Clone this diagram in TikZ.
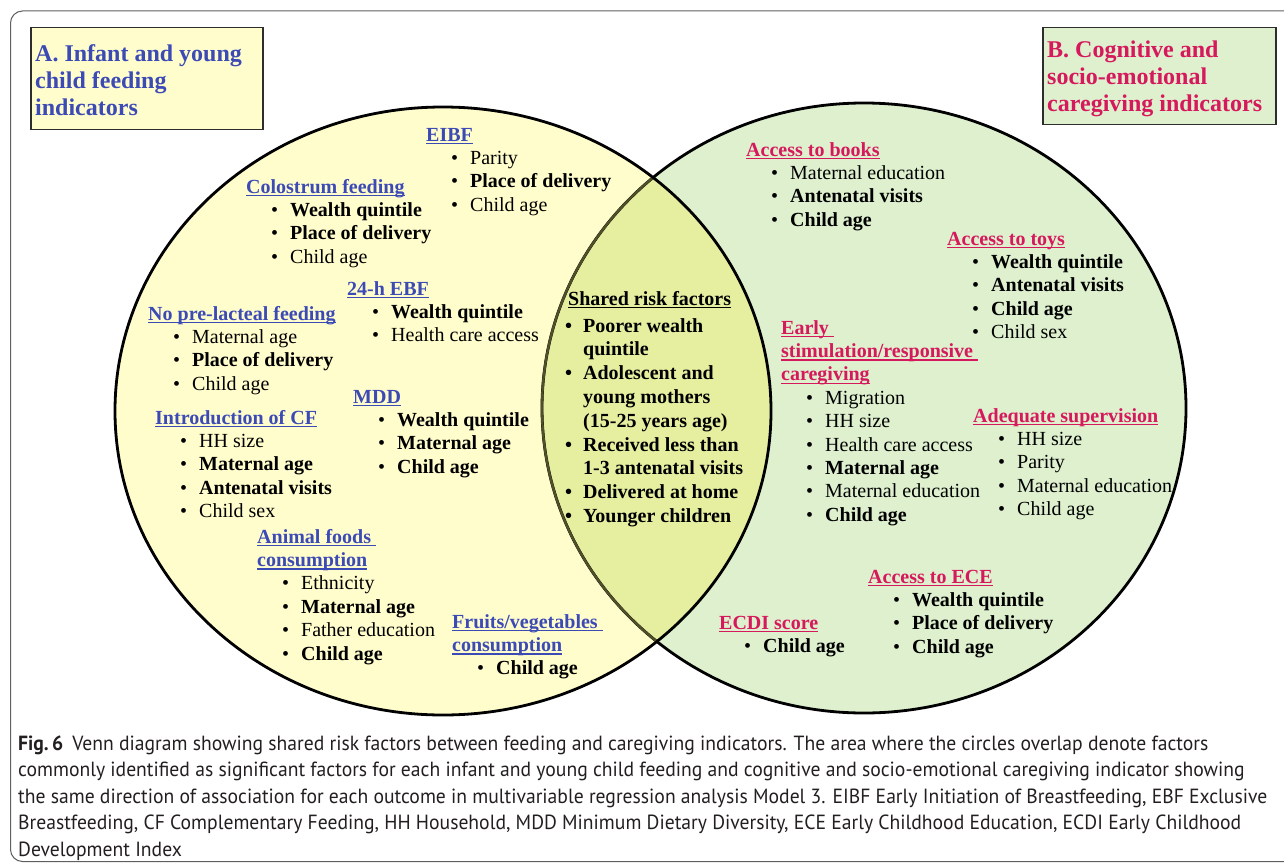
\documentclass[tikz,border=0pt]{standalone}
\usepackage{fontspec}
\setmainfont{Liberation Serif}
\newfontfamily\capfont[FakeStretch=0.958]{PT Sans}
\definecolor{feedblue}{RGB}{60,74,182}
\definecolor{carered}{RGB}{214,24,92}
\definecolor{yelfill}{RGB}{255,253,204}
\definecolor{grnfill}{RGB}{222,240,206}
\definecolor{ovlfill}{RGB}{230,238,160}
\definecolor{olivedge}{RGB}{80,80,40}
\definecolor{framegray}{RGB}{95,95,95}
\definecolor{boxedge}{RGB}{45,45,45}
\definecolor{captext}{RGB}{35,31,32}
\newcommand\ulx[1]{\setbox0\hbox{#1}\rlap{\rule[-3.2pt]{\wd0}{1.3pt}}\box0}
\newcommand\hdA[1]{{\color{feedblue}\bfseries\ulx{#1}}}
\newcommand\hdB[1]{{\color{carered}\bfseries\ulx{#1}}}
\newcommand\bi[1]{\hspace*{25pt}\makebox[19pt][l]{\textbullet}#1}
\newcommand\bb[1]{\bi{\bfseries #1}}
\newcommand\sbul[1]{\makebox[18pt][l]{\textbullet}#1}
\newcommand\scont[1]{\hspace*{18pt}#1}
\tikzset{
  grp/.style={anchor=base west, inner sep=0pt, font=\fontsize{20}{23.4}\selectfont},
  shared/.style={anchor=base west, inner sep=0pt, font=\fontsize{20}{23.8}\selectfont\bfseries},
  titlebox/.style={anchor=north west, draw=boxedge, line width=1.5pt, inner sep=0pt},
  titletext/.style={anchor=base west, inner sep=0pt, font=\fontsize{24}{27}\selectfont\bfseries},
  capline/.style={anchor=base west, inner sep=0pt, text=captext, font=\capfont\fontsize{20.5}{26.5}\selectfont},
  outline/.style={line width=2.8pt, black}
}
\begin{document}
\begin{tikzpicture}[x=1pt,y=-1pt]
\useasboundingbox (0,0) rectangle (1284,864);
\begin{scope}
\clip (0,0) rectangle (1284,864);
\draw[framegray, line width=1pt, rounded corners=12pt] (10.5,11) rectangle (1330,861.5);
\end{scope}
% circles
\fill[yelfill] (443,411) ellipse [x radius=328, y radius=304];
\fill[grnfill] (864,408) ellipse [x radius=322, y radius=305];
\begin{scope}
\clip (443,411) ellipse [x radius=328, y radius=304];
\fill[ovlfill] (864,408) ellipse [x radius=322, y radius=305];
\end{scope}
\draw[outline] (443,411) ellipse [x radius=328, y radius=304];
\draw[outline] (864,408) ellipse [x radius=322, y radius=305];
\begin{scope}
\clip (443,411) ellipse [x radius=326.6, y radius=302.6];
\draw[line width=2.4pt, olivedge] (864,408) ellipse [x radius=322, y radius=305];
\end{scope}
% title boxes
\node[titlebox, fill=yelfill, minimum width=232pt, minimum height=102pt] (boxa) at (30,27) {};
\node[titletext, text=feedblue] (titlea) at (35,62) {\begin{tabular}[t]{@{}l@{}}A. Infant and young\\child feeding\\indicators\end{tabular}};
\node[titlebox, fill=grnfill, minimum width=233pt, minimum height=97pt] (boxb) at (1042,27) {};
\node[titletext, text=carered] (titleb) at (1047,58) {\begin{tabular}[t]{@{}l@{}}B. Cognitive and\\socio-emotional\\caregiving indicators\end{tabular}};
% left groups
\node[grp] (eibf) at (426,141) {\begin{tabular}[t]{@{}l@{}}\hdA{EIBF}\\\bi{Parity}\\\bb{Place of delivery}\\\bi{Child age}\end{tabular}};
\node[grp] (colos) at (246,193) {\begin{tabular}[t]{@{}l@{}}\hdA{Colostrum feeding}\\\bb{Wealth quintile}\\\bb{Place of delivery}\\\bi{Child age}\end{tabular}};
\node[grp] (ebf) at (347,295) {\begin{tabular}[t]{@{}l@{}}\hdA{24-h EBF}\\\bb{Wealth quintile}\\\bi{Health care access}\end{tabular}};
\node[grp] (nopre) at (148,320) {\begin{tabular}[t]{@{}l@{}}\hdA{No pre-lacteal feeding}\\\bi{Maternal age}\\\bb{Place of delivery}\\\bi{Child age}\end{tabular}};
\node[grp] (mdd) at (353,403) {\begin{tabular}[t]{@{}l@{}}\hdA{MDD}\\\bb{Wealth quintile}\\\bb{Maternal age}\\\bb{Child age}\end{tabular}};
\node[grp] (introcf) at (155,424) {\begin{tabular}[t]{@{}l@{}}\hdA{Introduction of CF}\\\bi{HH size}\\\bb{Maternal age}\\\bb{Antenatal visits}\\\bi{Child sex}\end{tabular}};
\node[grp] (animal) at (257,543) {\begin{tabular}[t]{@{}l@{}}\hdA{Animal foods\ }\\\hdA{consumption}\\\bi{Ethnicity}\\\bb{Maternal age}\\\bi{Father education}\\\bb{Child age}\end{tabular}};
\node[grp] (fruits) at (452,628) {\begin{tabular}[t]{@{}l@{}}\hdA{Fruits/vegetables\ }\\\hdA{consumption}\\\bb{Child age}\end{tabular}};
% shared
\node[shared] (sharedhd) at (568,305) {\ulx{Shared risk factors}};
\node[shared] (shareditems) at (565,332) {\begin{tabular}[t]{@{}l@{}}\sbul{Poorer wealth}\\\scont{quintile}\\\sbul{Adolescent and}\\\scont{young mothers}\\\scont{(15-25 years age)}\\\sbul{Received less than}\\\scont{1-3 antenatal visits}\\\sbul{Delivered at home}\\\sbul{Younger children}\end{tabular}};
% right groups
\node[grp] (books) at (746,156) {\begin{tabular}[t]{@{}l@{}}\hdB{Access to books}\\\bi{Maternal education}\\\bb{Antenatal visits}\\\bb{Child age}\end{tabular}};
\node[grp] (toys) at (947,245) {\begin{tabular}[t]{@{}l@{}}\hdB{Access to toys}\\\bb{Wealth quintile}\\\bb{Antenatal visits}\\\bb{Child age}\\\bi{Child sex}\end{tabular}};
\node[grp] (early) at (781,334) {\begin{tabular}[t]{@{}l@{}}\hdB{Early\ }\\\hdB{stimulation/responsive\ }\\\hdB{caregiving}\\\bi{Migration}\\\bi{HH size}\\\bi{Health care access}\\\bb{Maternal age}\\\bi{Maternal education}\\\bb{Child age}\end{tabular}};
\node[grp] (superv) at (973,422) {\begin{tabular}[t]{@{}l@{}}\hdB{Adequate supervision}\\\bi{HH size}\\\bi{Parity}\\\bi{Maternal education}\\\bi{Child age}\end{tabular}};
\node[grp] (ece) at (868,583) {\begin{tabular}[t]{@{}l@{}}\hdB{Access to ECE}\\\bb{Wealth quintile}\\\bb{Place of delivery}\\\bb{Child age}\end{tabular}};
\node[grp] (ecdi) at (719,629) {\begin{tabular}[t]{@{}l@{}}\hdB{ECDI score}\\\bb{Child age}\end{tabular}};
% caption
\node[capline] (cap1) at (18,750) {{\bfseries Fig.\,6}\hspace{9pt}Venn diagram showing shared risk factors between feeding and caregiving indicators. The area where the circles overlap denote factors};
\node[capline] (cap2) at (18,776.5) {commonly identified as significant factors for each infant and young child feeding and cognitive and socio-emotional caregiving indicator showing};
\node[capline] (cap3) at (18,803) {the same direction of association for each outcome in multivariable regression analysis Model 3. EIBF Early Initiation of Breastfeeding, EBF Exclusive};
\node[capline] (cap4) at (18,829.5) {Breastfeeding, CF Complementary Feeding, HH Household, MDD Minimum Dietary Diversity, ECE Early Childhood Education, ECDI Early Childhood};
\node[capline] (cap5) at (18,856) {Development Index};
\end{tikzpicture}
\end{document}
